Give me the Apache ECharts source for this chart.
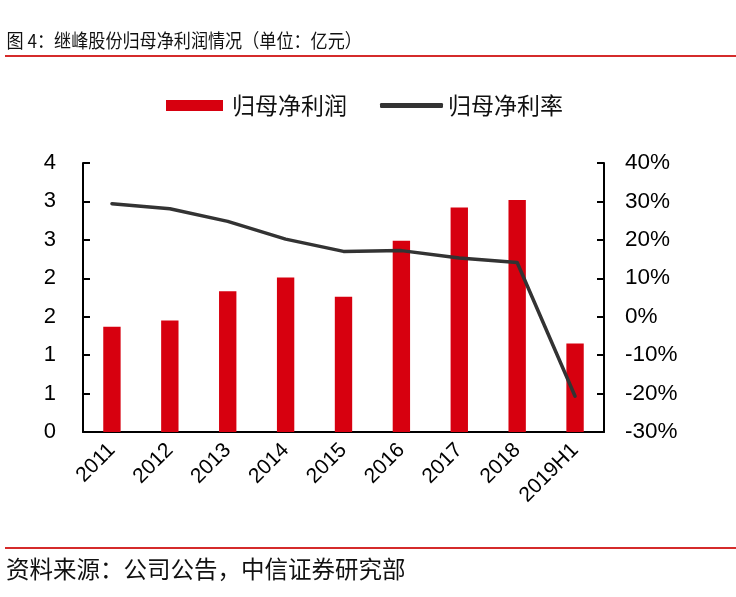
<!DOCTYPE html>
<html><head><meta charset="utf-8">
<script src="https://cdn.jsdelivr.net/npm/echarts@6/dist/echarts.min.js"></script>
<style>html,body{margin:0;padding:0;background:#fff}#c{width:736px;height:597px}</style>
</head><body><div id="c"></div>
<script>
const categories = ['2011','2012','2013','2014','2015','2016','2017','2018','2019H1'];
const profit = [1.37, 1.45, 1.83, 2.01, 1.76, 2.49, 2.92, 3.02, 1.15];
const margin = [29.4, 28.1, 24.8, 20.2, 17.0, 17.2, 15.3, 14.1, -20.7];
const leftTickLabels = ['0','1','1','2','2','3','3','4'];
const rightTickLabels = ['-30%','-20%','-10%','0%','10%','20%','30%','40%'];
const titleText = '图 4：继峰股份归母净利润情况（单位：亿元）';
const sourceText = '资料来源：公司公告，中信证券研究部';

const cjk = '"Noto Sans CJK SC", sans-serif';
const num = '"Liberation Sans", Arial, sans-serif';
const chart = echarts.init(document.getElementById('c'));
chart.setOption({
  animation: false,
  graphic: [
    {type: 'text', x: 6, y: 41, scaleX: 0.9, originX: 6,
     style: {text: titleText, font: '19px "Noto Sans CJK SC", sans-serif', fill: '#111', verticalAlign: 'middle'}},
    {type: 'line', shape: {x1: 5, y1: 56, x2: 736, y2: 56}, style: {stroke: '#d52b2b', lineWidth: 2}},
    {type: 'line', shape: {x1: 5, y1: 548, x2: 736, y2: 548}, style: {stroke: '#d52b2b', lineWidth: 2}},
    {type: 'text', x: 6, y: 569,
     style: {text: sourceText, font: '23.5px "Noto Sans CJK SC", sans-serif', fill: '#111', verticalAlign: 'middle'}}
  ],
  legend: [
    {data: [{name: '归母净利润', icon: 'rect'}], left: 166, top: 94, itemWidth: 57, itemHeight: 11, itemGap: 0, padding: 0,
     textStyle: {fontFamily: cjk, fontSize: 23, color: '#111', padding: [0,0,0,4]}},
    {data: [{name: '归母净利率', icon: 'roundRect'}], left: 380, top: 94, itemWidth: 63, itemHeight: 5, itemGap: 0, padding: 0,
     textStyle: {fontFamily: cjk, fontSize: 23, color: '#111', padding: [0,0,0,0]}}
  ],
  grid: {left: 83, right: 132, top: 163, bottom: 165, containLabel: false},
  xAxis: {
    type: 'category', data: categories,
    axisLine: {lineStyle: {color: '#000', width: 2}},
    axisTick: {show: false},
    axisLabel: {rotate: 45, fontFamily: num, fontSize: 21, color: '#000', margin: 15, interval: 0}
  },
  yAxis: [
    {type: 'value', min: 0, max: 3.5, interval: 0.5,
     axisLine: {show: true, lineStyle: {color: '#000', width: 2}},
     axisTick: {show: true, inside: true, length: 7, lineStyle: {color: '#000', width: 2}},
     splitLine: {show: false},
     axisLabel: {fontFamily: num, fontSize: 22, color: '#000', margin: 27,
       formatter: (v) => leftTickLabels[Math.round(v / 0.5)]}},
    {type: 'value', min: -30, max: 40, interval: 10,
     axisLine: {show: true, lineStyle: {color: '#000', width: 2}},
     axisTick: {show: true, inside: true, length: 7, lineStyle: {color: '#000', width: 2}},
     splitLine: {show: false},
     axisLabel: {fontFamily: num, fontSize: 22.5, color: '#000', margin: 21, align: 'left',
       formatter: (v) => rightTickLabels[Math.round((v + 30) / 10)]}}
  ],
  series: [
    {name: '归母净利润', type: 'bar', data: profit, yAxisIndex: 0, barWidth: '30%',
     itemStyle: {color: '#d7000f'}},
    {name: '归母净利率', type: 'line', data: margin, yAxisIndex: 1, smooth: false,
     symbol: 'none', lineStyle: {color: '#333333', width: 3.5, cap: 'round', join: 'round'},
     itemStyle: {color: '#333333'}}
  ]
});
</script></body></html>
